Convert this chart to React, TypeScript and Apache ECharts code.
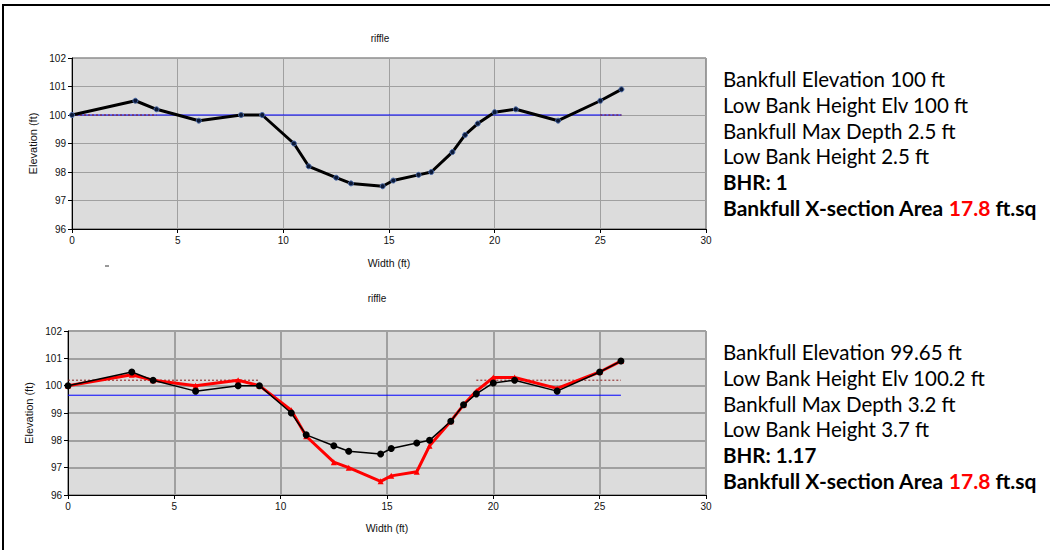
import React, { useEffect, useRef } from "react";
import * as echarts from "echarts";

// ---- data ----
const stationX = [0, 3, 4, 6, 8, 9, 10.5, 11.2, 12.5, 13.2, 14.7, 15.2, 16.4, 17, 18, 18.6, 19.2, 20, 21, 23, 25, 26];
const existingElev = [100, 100.5, 100.2, 99.8, 100, 100, 99, 98.2, 97.8, 97.6, 97.5, 97.7, 97.9, 98, 98.7, 99.3, 99.7, 100.1, 100.2, 99.8, 100.5, 100.9];
const proposedElev = [100, 100.4, 100.2, 100.0, 100.2, 100, 99.1, 98.15, 97.2, 97.0, 96.5, 96.7, 96.85, 97.8, 98.7, 99.3, 99.8, 100.3, 100.3, 99.9, 100.5, 100.9];

const topBankfullElev = 100;
const topBankfullRange = [0, 26];
const topLowBankElev = 100;
const topLowBankRanges = [[0, 4], [25, 26]];

const botBankfullElev = 99.65;
const botBankfullRange = [0, 26];
const botLowBankElev = 100.2;
const botLowBankRanges = [[0, 9], [19.2, 26]];

const xTicks = { min: 0, max: 30, interval: 5 };
const yTicks = { min: 96, max: 102, interval: 1 };

const topStats = [
  "Bankfull Elevation 100 ft",
  "Low Bank Height Elv 100 ft",
  "Bankfull Max Depth 2.5 ft",
  "Low Bank Height 2.5 ft",
];
const topBHR = "BHR: 1";
const botStats = [
  "Bankfull Elevation 99.65 ft",
  "Low Bank Height Elv 100.2 ft",
  "Bankfull Max Depth 3.2 ft",
  "Low Bank Height 3.7 ft",
];
const botBHR = "BHR: 1.17";
const areaValue = "17.8";

const pairs = (xs: number[], ys: number[]) => xs.map((x, i) => [x, ys[i]]);
const hline = (range: number[], y: number) => range.map((x) => [x, y]);

export default function App() {
  const ref = useRef<HTMLDivElement>(null);
  useEffect(() => {
    if (!ref.current) return;
    const chart = echarts.init(ref.current, null, { renderer: "svg" });
    const axisFont = { fontFamily: "Liberation Sans, Arial, sans-serif", fontSize: 10, color: "#111" };

    const mkX = (gi: number, gap: number, gw: number) => ({
      type: "value",
      gridIndex: gi,
      ...xTicks,
      name: "Width (ft)",
      nameLocation: "middle",
      nameGap: gap,
      nameTextStyle: { ...axisFont, fontSize: 10.5 },
      axisLine: { show: true, lineStyle: { color: "#000", width: 1 } },
      axisTick: { show: true, length: 4, lineStyle: { color: "#000" } },
      axisLabel: { ...axisFont, margin: 6 },
      splitLine: { show: true, lineStyle: { color: "#a0a0a0", width: gw } },
    });
    const mkY = (gi: number, gap: number, gw: number) => ({
      type: "value",
      gridIndex: gi,
      ...yTicks,
      name: "Elevation (ft)",
      nameLocation: "middle",
      nameGap: gap,
      nameRotate: 90,
      nameTextStyle: { ...axisFont, fontSize: 11 },
      axisLine: { show: true, lineStyle: { color: "#000", width: 1 } },
      axisTick: { show: true, length: 4, lineStyle: { color: "#000" } },
      axisLabel: { ...axisFont, margin: 6 },
      splitLine: { show: true, lineStyle: { color: "#a0a0a0", width: gw } },
    });

    const statFont = "Lato, 'Open Sans', sans-serif";
    const statBlock = (x: number, y0: number, lines: string[], bhr: string) => {
      const els: any[] = [];
      const step = 25.8;
      lines.forEach((t, i) => {
        els.push({
          type: "text",
          x: x,
          y: y0 + i * step,
          style: { text: t, fontFamily: statFont, fontSize: 20.5, fill: "#000", verticalAlign: "middle" },
        });
      });
      els.push({
        type: "text",
        x: x,
        y: y0 + 4 * step,
        style: { text: bhr, fontFamily: statFont, fontSize: 20.5, fontWeight: "bold", fill: "#000", verticalAlign: "middle" },
      });
      els.push({
        type: "text",
        x: x,
        y: y0 + 5 * step - 1,
        style: {
          text: "Bankfull X-section Area {r|" + areaValue + "} ft.sq",
          fontFamily: statFont,
          fontSize: 21,
          fontWeight: "bold",
          fill: "#000",
          verticalAlign: "middle",
          rich: { r: { fill: "#ff0000", fontFamily: statFont, fontSize: 21, fontWeight: "bold" } },
        },
      });
      return els;
    };

    const lowBankSeries = (ranges: number[][], y: number, xi: number) =>
      ranges.map((r) => ({
        type: "line",
        xAxisIndex: xi,
        yAxisIndex: xi,
        data: hline(r, y),
        symbol: "none",
        lineStyle: { color: "#8b1a1a", width: 1, type: [2, 2] },
        z: 4,
        silent: true,
      }));

    chart.setOption({
      animation: false,
      grid: [
        { left: 72, top: 58, width: 634, height: 171, show: true, backgroundColor: "#dcdcdc", borderColor: "#555", borderWidth: 1 },
        { left: 68, top: 331, width: 638, height: 164, show: true, backgroundColor: "#dcdcdc", borderColor: "#555", borderWidth: 1 },
      ],
      xAxis: [mkX(0, 28, 1), mkX(1, 27, 2)],
      yAxis: [mkY(0, 23, 1), mkY(1, 23, 2)],
      series: [
        {
          type: "line",
          xAxisIndex: 0,
          yAxisIndex: 0,
          data: hline(topBankfullRange, topBankfullElev),
          symbol: "none",
          lineStyle: { color: "#0000ff", width: 1 },
          z: 3,
          silent: true,
        },
        ...lowBankSeries(topLowBankRanges, topLowBankElev, 0),
        {
          type: "line",
          xAxisIndex: 0,
          yAxisIndex: 0,
          data: pairs(stationX, existingElev),
          symbol: "circle",
          symbolSize: 5,
          itemStyle: { color: "#0b1836", borderColor: "#4a6aa8", borderWidth: 1 },
          lineStyle: { color: "#000", width: 3 },
          z: 5,
        },
        {
          type: "line",
          xAxisIndex: 1,
          yAxisIndex: 1,
          data: hline(botBankfullRange, botBankfullElev),
          symbol: "none",
          lineStyle: { color: "#0000ff", width: 1 },
          z: 3,
          silent: true,
        },
        ...lowBankSeries(botLowBankRanges, botLowBankElev, 1),
        {
          type: "line",
          xAxisIndex: 1,
          yAxisIndex: 1,
          data: pairs(stationX, proposedElev),
          symbol: "triangle",
          symbolSize: 6,
          itemStyle: { color: "#ff0000" },
          lineStyle: { color: "#ff0000", width: 3 },
          z: 5,
        },
        {
          type: "line",
          xAxisIndex: 1,
          yAxisIndex: 1,
          data: pairs(stationX, existingElev),
          symbol: "circle",
          symbolSize: 7,
          itemStyle: { color: "#000" },
          lineStyle: { color: "#000", width: 1.5 },
          z: 6,
        },
      ],
      graphic: [
        { type: "line", shape: { x1: 3, y1: 5, x2: 1050, y2: 5 }, style: { stroke: "#000", lineWidth: 2 } },
        { type: "line", shape: { x1: 3, y1: 4, x2: 3, y2: 550 }, style: { stroke: "#000", lineWidth: 2 } },
        { type: "text", x: 380, y: 38, style: { text: "riffle", fontFamily: "Liberation Sans, Arial, sans-serif", fontSize: 10, fill: "#111", align: "center", verticalAlign: "middle" } },
        { type: "text", x: 377, y: 298, style: { text: "riffle", fontFamily: "Liberation Sans, Arial, sans-serif", fontSize: 10, fill: "#111", align: "center", verticalAlign: "middle" } },
        { type: "line", shape: { x1: 105, y1: 266, x2: 109, y2: 266 }, style: { stroke: "#333", lineWidth: 1 } },
        ...statBlock(723, 79, topStats, topBHR),
        ...statBlock(723, 352, botStats, botBHR),
      ],
    });
    return () => chart.dispose();
  }, []);
  return <div ref={ref} style={{ position: "fixed", left: 0, top: 0, width: 1050, height: 550, background: "#fff" }} />;
}
